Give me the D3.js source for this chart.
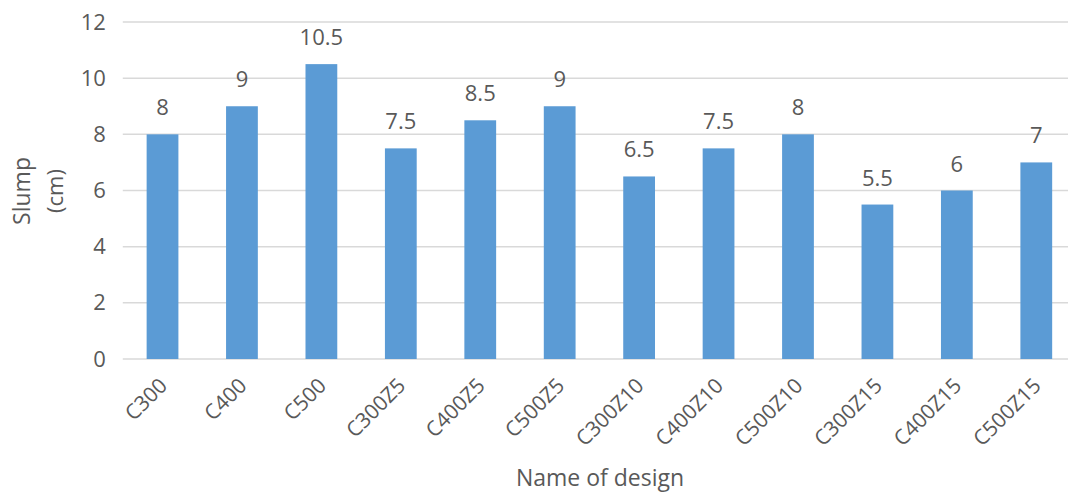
<!DOCTYPE html>
<html>
<head>
<meta charset="utf-8">
<script src="https://cdn.jsdelivr.net/npm/d3@7"></script>
<style>
  body { margin: 0; background: #fff; }
  svg text { font-family: "Open Sans", "Noto Sans", sans-serif; fill: #595959; }
</style>
</head>
<body>
<div id="chart"></div>
<script>

var designs = ["C300", "C400", "C500", "C300Z5", "C400Z5", "C500Z5",
               "C300Z10", "C400Z10", "C500Z10", "C300Z15", "C400Z15", "C500Z15"];
var slump = [8, 9, 10.5, 7.5, 8.5, 9, 6.5, 7.5, 8, 5.5, 6, 7];
var yTicks = [0, 2, 4, 6, 8, 10, 12];

var width = 1068,
    height = 492,
    plotLeft = 122.8,
    plotRight = 1076,
    plotTop = 22,
    plotBottom = 359;

var svg = d3.select("#chart").append("svg")
    .attr("width", width)
    .attr("height", height);

var x = d3.scaleBand()
    .domain(designs)
    .range([plotLeft, plotRight])
    .paddingInner(0.6)
    .paddingOuter(0.3);

var y = d3.scaleLinear()
    .domain([0, 12])
    .range([plotBottom, plotTop]);

// gridlines
svg.append("g")
    .selectAll("line")
    .data(yTicks)
    .enter().append("line")
    .attr("x1", plotLeft)
    .attr("x2", width)
    .attr("y1", function(d) { return y(d); })
    .attr("y2", function(d) { return y(d); })
    .attr("stroke", "#d9d9d9")
    .attr("stroke-width", 1.5);

// y axis labels
var yAxis = d3.axisLeft(y).tickValues(yTicks).tickSize(0).tickPadding(17);
var gy = svg.append("g")
    .attr("transform", "translate(" + plotLeft + ",0)")
    .call(yAxis);
gy.select(".domain").remove();
gy.selectAll("text")
    .style("font-size", "22px")
    .style("font-family", null);

// bars
svg.append("g")
    .selectAll("rect")
    .data(slump)
    .enter().append("rect")
    .attr("x", function(d, i) { return x(designs[i]); })
    .attr("width", x.bandwidth())
    .attr("y", function(d) { return y(d); })
    .attr("height", function(d) { return y(0) - y(d); })
    .attr("fill", "#5b9bd5");

// value labels
svg.append("g")
    .selectAll("text")
    .data(slump)
    .enter().append("text")
    .attr("x", function(d, i) { return x(designs[i]) + x.bandwidth() / 2; })
    .attr("y", function(d) { return y(d) - 19; })
    .attr("text-anchor", "middle")
    .style("font-size", "22px")
    .text(function(d) { return d; });

// x axis labels
var xAxis = d3.axisBottom(x).tickSize(0).tickPadding(0);
var gx = svg.append("g")
    .attr("transform", "translate(0," + plotBottom + ")")
    .call(xAxis);
gx.select(".domain").remove();
gx.selectAll("text")
    .style("font-size", "21px")
    .attr("text-anchor", "end")
    .attr("dy", "0")
    .attr("y", 0)
    .attr("transform", "translate(6,28) rotate(-45)");

// axis titles
svg.append("text")
    .attr("transform", "translate(22,191) rotate(-90)")
    .attr("text-anchor", "middle")
    .attr("dy", "0.35em")
    .style("font-size", "23px")
    .text("Slump");

svg.append("text")
    .attr("transform", "translate(55,191) rotate(-90)")
    .attr("text-anchor", "middle")
    .attr("dy", "0.35em")
    .style("font-size", "22px")
    .text("(cm)");

svg.append("text")
    .attr("x", 600)
    .attr("y", 486)
    .attr("text-anchor", "middle")
    .style("font-size", "23px")
    .text("Name of design");

</script>
</body>
</html>
